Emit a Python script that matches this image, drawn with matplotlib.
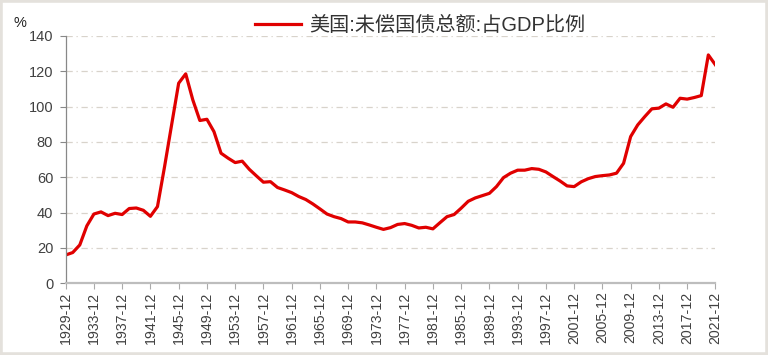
import numpy as np
import matplotlib
matplotlib.use('Agg')
import matplotlib.pyplot as plt
from matplotlib.patches import Rectangle

plt.rcParams['font.family'] = ['Liberation Sans', 'Noto Sans CJK SC', 'DejaVu Sans']

# US outstanding federal debt as % of GDP, yearly (Dec)
years = list(range(1929, 2022))
debt_pct = [
    16.0, 17.4, 21.7, 32.5, 39.2, 40.4, 38.3, 39.6, 38.9, 42.3,   # 1929-1938
    42.6, 41.3, 37.9, 43.4, 65.9, 89.6, 113.2, 118.5, 103.8, 92.1,  # 1939-1948
    92.8, 85.8, 73.6, 70.8, 68.3, 69.1, 64.5, 60.8, 57.2, 57.5,   # 1949-1958
    54.2, 52.8, 51.3, 49.1, 47.4, 44.9, 42.1, 39.2, 37.7, 36.6,   # 1959-1968
    34.7, 34.7, 34.2, 33.0, 31.7, 30.5, 31.5, 33.3, 33.8, 32.8,   # 1969-1978
    31.3, 31.7, 30.8, 34.3, 37.7, 38.9, 42.5, 46.4, 48.3, 49.6,   # 1979-1988
    50.9, 54.7, 59.8, 62.3, 64.0, 64.0, 64.9, 64.5, 63.0, 60.4,   # 1989-1998
    57.9, 55.1, 54.7, 57.4, 59.2, 60.4, 60.9, 61.3, 62.3, 67.9,   # 1999-2008
    83.0, 89.6, 94.3, 98.7, 99.1, 101.5, 99.6, 104.7, 104.2, 105.1,  # 2009-2018
    106.2, 129.2, 123.6,                                          # 2019-2021
]
tick_years = list(range(1929, 2022, 4))
tick_labels = ['%d-12' % y for y in tick_years]
series_name = '美国:未偿国债总额:占GDP比例'

fig = plt.figure(figsize=(7.68, 3.55), dpi=100)
ax = fig.add_axes([0.0855, 0.202, 0.846, 0.697])

ax.plot(years, debt_pct, color='#e00000', lw=2.3, label=series_name, solid_joinstyle='round')

ax.set_xlim(1929, 2021)
ax.set_ylim(0, 140)
ax.set_yticks(range(0, 141, 20))
ax.set_xticks(tick_years)
ax.set_xticklabels(tick_labels, rotation=90)

ax.grid(axis='y', color='#d8d3cb', lw=0.9, linestyle=(0, (5, 3, 1, 3)))
ax.set_axisbelow(True)
for s in ['top', 'right']:
    ax.spines[s].set_visible(False)
ax.spines['left'].set_color('#888888')
ax.spines['left'].set_linewidth(0.9)
ax.spines['bottom'].set_color('#bdbdbd')
ax.spines['bottom'].set_linewidth(1.6)
ax.tick_params(axis='y', length=4, color='#888888', labelsize=10.5, labelcolor='#404040', pad=5)
ax.tick_params(axis='x', length=4, color='#aaaaaa', labelsize=10.2, labelcolor='#404040', pad=2)

fig.text(0.018, 0.936, '%', fontsize=10.5, color='#222222', va='center')

leg = fig.legend(loc='center', bbox_to_anchor=(0.547, 0.928), frameon=False,
                 fontsize=14.5, handlelength=2.3, handletextpad=0.4)
for t in leg.get_texts():
    t.set_color('#333333')

fig.patches.append(Rectangle((0, 0), 1, 1, transform=fig.transFigure, fill=False,
                             edgecolor='#e4e1dc', lw=4, zorder=10))

fig.savefig('out.png', dpi=100)
